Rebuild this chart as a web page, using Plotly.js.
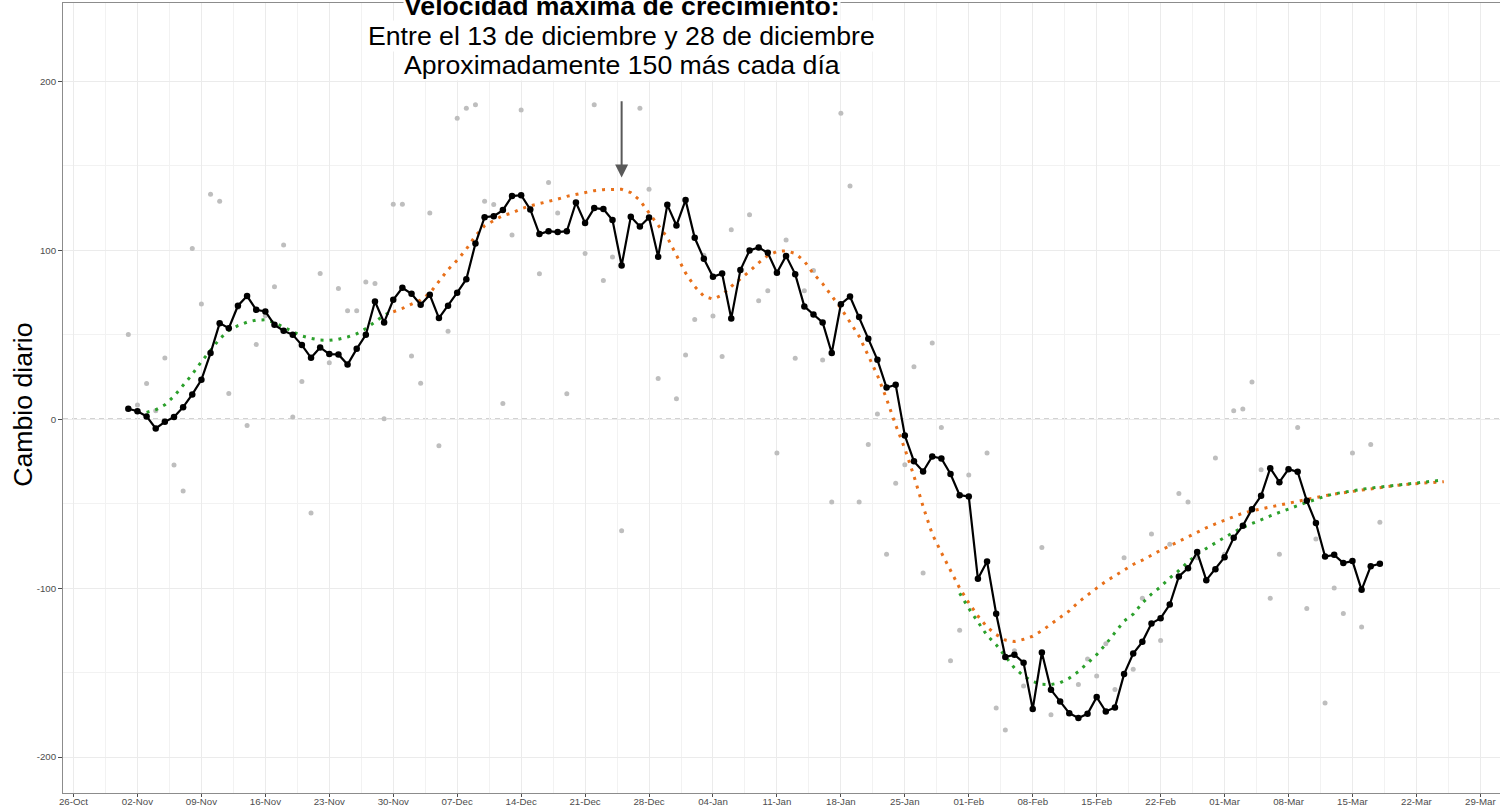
<!DOCTYPE html>
<html>
<head>
<meta charset="utf-8">
<script src="https://cdn.plot.ly/plotly-3.0.1.min.js"></script>
<style>html,body{margin:0;padding:0;background:#fff;}#chart{width:1500px;height:808px;}</style>
</head>
<body>
<div id="chart"></div>
<script>
// ---------- data ----------
// daily series start on 2020-11-01
const dailyStart = '2020-11-01';
// raw daily change (grey points); null = not visible / outside the y limits
const dailyChange = [
  // Nov
  50.1, 8.3, 21.1, 4.9, 36.1, -27.2, -42.6, 101, 68.2, 133, 129, 15.2, 66, -3.8, 44.2,
  61.1, 78.3, 103, 1.2, 22.3, -55.6, 86.2, 33.3, 77.3, 64.1, 64.1, 81.2, 80.3, 0.2, 127.2,
  // Dec
  127.2, 37.3, 21.2, 122, -15.8, 52, 178, 184, 186, 129, 127, 9.3, 109, 183, 125, 86,
  140, 122, 15, null, 98, 186, 82, 96, -66, 215, 184, 136, 24, null, 12,
  // Jan
  38, 59, 97, 61, 37, 112, 212, 121, 70, 76, -20, 106, 36, 76, 88, 35, -49, 181, 138,
  -49, -15, 3, -80, -38, -27, 31, -91, 45, -5, -143, -125,
  // Feb
  -33, null, -20, -171, -184, -137, -158, null, -76, -175, null, null, -157, -142,
  -152, -133, -160, -82, -148, -106, -68, -131, -74, -44, -49, -82, null, -23,
  // Mar
  -80, 5, 6, 22, -30, -106, -80, -29, -5, -112, -71, -168, -100, -115, -20, -123, -15, -61
];
// 7-day average (black line)
const weeklyAvg = [
  // Nov
  6.1, 4.7, 1.6, -5.5, -1.6, 1.2, 7.1, 14.6, 23.3, 39.1, 56.8, 53.8, 67.1, 72.8, 64.7,
  63.7, 55.8, 52.3, 49.9, 43.8, 36.3, 42.4, 38.5, 38.3, 32.3, 41.6, 49.9, 69.6, 57.2, 70.6,
  // Dec
  77.7, 74.2, 67.7, 73.6, 59.8, 67.1, 74.8, 82.8, 103.9, 119.5, 120.1, 123.7, 132, 132.5,
  124.1, 109.5, 111.2, 110.7, 111.2, 128.2, 116, 124.9, 124.3, 117.8, 90.9, 119.7, 114,
  119.3, 96.1, 126.8, 114.6,
  // Jan
  129.6, 107.3, 94.9, 84.2, 86.2, 59.6, 88.2, 99.8, 101.6, 98.4, 86.6, 96.6, 85.8, 66.7,
  61.9, 57.2, 39.1, 68, 72.6, 60.4, 47.5, 35.1, 18.7, 20.3, -9.7, -25, -31, -22.1, -23.3,
  -32.5, -45,
  // Feb
  -45.8, -94.5, -84.2, -115.2, -140.8, -139.4, -144.2, -171.6, -138.1, -160.2, -167.1,
  -174, -176.9, -174.4, -164.5, -173, -170.6, -150.9, -138.7, -131.8, -120.9, -117.8,
  -109.7, -93.1, -88.2, -78.7, -95.3, -88.8,
  // Mar
  -81.7, -70.2, -63.1, -53.3, -45.4, -29, -37.3, -29.6, -31.2, -48.3, -61.5, -81.3,
  -80.3, -85.2, -84, -101, -87, -85.6
];
// smooth fit, first period (green dotted), starts 2020-11-03
const greenStartA = '2020-11-03';
const greenFitA = [
  4, 5.5, 8.5, 13.5, 20, 26.5, 34, 41, 47.5, 52.5, 55.3, 57.4, 58.6, 58.8, 57.2, 54.4,
  51.6, 49.2, 47.8, 46.8, 46.6, 47.3, 48.6, 50.5, 53.6, 57.8, 61.5, 64
];
// smooth fit, last period (green dotted), starts 2021-01-31
const greenStartB = '2021-01-31';
const greenFitB = [
  -103, -112, -120, -128, -133.5, -140.7, -147.3, -152, -155.3, -156.9, -157.1, -156,
  -153.3, -149.4, -144.6, -139.4, -133.2, -126, -119.5, -115.4, -108.8, -103.5, -99.2,
  -94, -89.6, -84.5, -80, -76.5, -73, -70, -67, -64, -61.8, -59.4, -57.3, -55.2, -53,
  -51.2, -49.3, -47.4, -45.6, -44.2, -43.2, -42.2, -41.5, -40.8, -40.2, -39.5, -38.9,
  -38.1, -37.5, -37, -36.4, -36
];
// smooth fit (orange dotted), starts 2020-11-30
const orangeStart = '2020-11-30';
const orangeFit = [
  63.5, 65.5, 68, 70.5, 74.5, 81.5, 88.5, 94, 100.6, 108.5, 114.4, 117.5, 120.5, 122,
  124.5, 126.2, 127.5, 128.6, 130.2, 131.8, 133, 134.2, 135.2, 135.8, 136.1, 136, 134,
  129.5, 122, 115, 107.5, 97, 86.5, 78.5, 72.7, 71, 73.5, 78.5, 82.8, 87.5, 92.5, 96.8,
  99.2, 99.6, 98, 93.5, 86, 80.2, 72.9, 65.6, 57.4, 49, 37.5, 26, 12, -3.5, -17.5, -33.7,
  -51.7, -68, -79, -90, -100, -108.7, -116.5, -123, -127.5, -130.7, -131.6, -130.3,
  -128.5, -125.2, -121.3, -117.8, -113.5, -108.3, -104, -100, -96, -92.5, -89, -86,
  -83.5, -80.3, -77.6, -75, -72.2, -69.5, -66.7, -64.3, -62, -59.8, -57.5, -55.6, -54.3,
  -53, -52, -50.9, -49.7, -48.5, -47.3, -46.2, -45.3, -44.4, -43.5, -42.8, -42, -41.3,
  -40.5, -39.8, -39.1, -38.6, -38.1, -37.7, -37.3, -37
];
const yTickVals = [-200, -100, 0, 100, 200];
const yTickText = ['-200', '-100', '0', '100', '200'];
const yTitle = 'Cambio diario';
const noteTitle = 'Velocidad máxima de crecimiento:';
const noteLine1 = 'Entre el 13 de diciembre y 28 de diciembre';
const noteLine2 = 'Aproximadamente 150 más cada día';
const arrowDate = '2020-12-25';
const arrowFrom = 189;
const arrowTo = 143;

// ---------- helpers ----------
function days(start, n) {
  const out = [];
  const t0 = Date.parse(start + 'T00:00:00Z');
  for (let i = 0; i < n; i++) {
    out.push(new Date(t0 + i * 86400000).toISOString().slice(0, 10));
  }
  return out;
}

const FONT = 'Liberation Sans, Arial, Helvetica, sans-serif';
const dotDash = '3px,6px';

const traces = [
  {
    x: days(dailyStart, dailyChange.length), y: dailyChange,
    type: 'scatter', mode: 'markers',
    marker: {color: '#BEBEBE', size: 5},
    hoverinfo: 'x+y', showlegend: false
  },
  {
    x: days(greenStartA, greenFitA.length), y: greenFitA,
    type: 'scatter', mode: 'lines',
    line: {color: '#2CA02C', width: 3, dash: dotDash},
    showlegend: false
  },
  {
    x: days(orangeStart, orangeFit.length), y: orangeFit,
    type: 'scatter', mode: 'lines',
    line: {color: '#E8701A', width: 3, dash: dotDash},
    showlegend: false
  },
  {
    x: days(greenStartB, greenFitB.length), y: greenFitB,
    type: 'scatter', mode: 'lines',
    line: {color: '#2CA02C', width: 3, dash: dotDash},
    showlegend: false
  },
  {
    x: days(dailyStart, weeklyAvg.length), y: weeklyAvg,
    type: 'scatter', mode: 'lines+markers',
    line: {color: '#000000', width: 2.2},
    marker: {color: '#000000', size: 6.5},
    showlegend: false
  }
];

const axisCommon = {
  showline: true, linecolor: '#8C8C8C', linewidth: 1, mirror: true,
  ticks: 'outside', tickcolor: '#4D4D4D', tickwidth: 1,
  gridcolor: '#EBEBEB', gridwidth: 1, zeroline: false,
  tickfont: {family: FONT, size: 9.7, color: '#4D4D4D'}
};

const layout = {
  width: 1500, height: 808,
  margin: {l: 63, r: 0, t: 3, b: 15, pad: 0},
  paper_bgcolor: '#FFFFFF', plot_bgcolor: '#FFFFFF',
  font: {family: FONT},
  showlegend: false,
  xaxis: Object.assign({}, axisCommon, {
    type: 'date',
    range: ['2020-10-24 20:24', '2021-03-31 03:36'],
    tick0: '2020-10-26', dtick: 7 * 86400000, tickformat: '%d-%b',
    ticklen: 3, ticklabelstandoff: -4,
    minor: {tick0: '2020-10-26', dtick: 3.5 * 86400000, showgrid: true, gridcolor: '#F2F2F2', gridwidth: 1, ticks: ''}
  }),
  yaxis: Object.assign({}, axisCommon, {
    range: [-221.25, 246.25],
    tickmode: 'array', tickvals: yTickVals, ticktext: yTickText,
    ticklen: 4,
    minor: {tickmode: 'array', tickvals: [-150, -50, 50, 150], showgrid: true, gridcolor: '#F2F2F2', gridwidth: 1, ticks: ''}
  }),
  shapes: [{
    type: 'line', xref: 'paper', x0: 0, x1: 1, yref: 'y', y0: 0, y1: 0,
    line: {color: '#A6A6A6', width: 1.2, dash: '5px,4px'}, layer: 'between'
  }],
  annotations: [
    {
      xref: 'x', yref: 'y', x: arrowDate, y: 244.2, text: '<b>' + noteTitle + '</b>',
      showarrow: false, xanchor: 'center', yanchor: 'middle', bgcolor: '#FFFFFF', borderpad: 0,
      font: {family: FONT, size: 26.67, color: '#000000'}
    },
    {
      xref: 'x', yref: 'y', x: arrowDate, y: 226.7, text: noteLine1,
      showarrow: false, xanchor: 'center', yanchor: 'middle', bgcolor: '#FFFFFF', borderpad: 0,
      font: {family: FONT, size: 26.67, color: '#000000'}
    },
    {
      xref: 'x', yref: 'y', x: arrowDate, y: 209.3, text: noteLine2,
      showarrow: false, xanchor: 'center', yanchor: 'middle', bgcolor: '#FFFFFF', borderpad: 0,
      font: {family: FONT, size: 26.67, color: '#000000'}
    },
    {
      xref: 'x', yref: 'y', x: arrowDate, y: arrowTo,
      axref: 'x', ayref: 'y', ax: arrowDate, ay: arrowFrom,
      text: '', showarrow: true, arrowhead: 2, arrowsize: 1.3, arrowwidth: 2,
      arrowcolor: '#595959', standoff: 0, startstandoff: 0
    },
    {
      xref: 'paper', yref: 'paper', x: -0.028, y: 0.491, text: yTitle,
      showarrow: false, textangle: -90, xanchor: 'center', yanchor: 'middle',
      font: {family: FONT, size: 26.67, color: '#000000'}
    }
  ]
};

Plotly.newPlot('chart', traces, layout, {displayModeBar: false, staticPlot: true});
</script>
</body>
</html>
